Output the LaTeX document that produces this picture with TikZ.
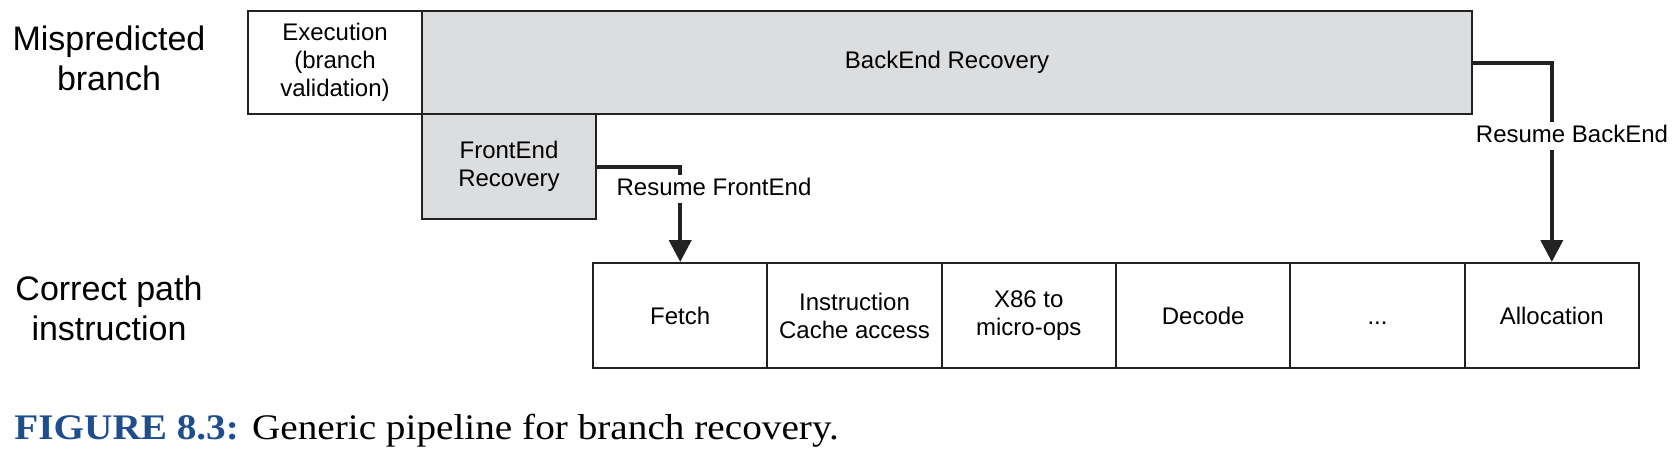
\documentclass[tikz,border=0pt]{standalone}
\usepackage{fontspec}
\setmainfont{Liberation Serif}
\setsansfont{Liberation Sans}
\usetikzlibrary{arrows.meta}
\definecolor{boxgray}{HTML}{DCDDDF}
\definecolor{capblue}{HTML}{1F4E8F}
\definecolor{linegray}{HTML}{222222}
\begin{document}
\begin{tikzpicture}[x=0.5pt,y=-0.5pt,
  box/.style={draw=linegray, line width=1pt, minimum width=87.17pt, minimum height=52.5pt,
    inner sep=0pt, align=center, font=\sffamily\fontsize{12}{14}\selectfont},
  graybox/.style={box, fill=boxgray},
  arr/.style={draw=linegray, line width=2pt, -{Triangle[width=11pt,length=11pt]}},
  lbl/.style={fill=white, inner xsep=2pt, inner ysep=0pt, text height=10pt, text depth=4pt,
    font=\sffamily\fontsize{12}{14}\selectfont},
  biglbl/.style={align=center, inner sep=0pt, font=\sffamily\fontsize{17}{20}\selectfont}]
\useasboundingbox (0,0) rectangle (1674,461);

% left labels
\node[biglbl] (mis) at (109,58) {Mispredicted\\branch};
\node[biglbl] (cor) at (109,308) {Correct path\\instruction};

% top boxes
\node[graybox, minimum width=525pt, minimum height=51.5pt] (back) at (947,62.5) {\raisebox{-1.5pt}{BackEnd Recovery}};
\node[box, fill=white, minimum width=87pt, minimum height=51.5pt] (exec) at (335,62.5) {Execution\\(branch\\validation)};
\node[graybox, minimum width=87pt, minimum height=52.5pt] (front) at (509,166.5) {FrontEnd\\Recovery};

% pipeline cells
\node[box] (fetch) at (680.2,315.5) {Fetch};
\node[box] (icache) at (854.5,315.5) {Instruction\\Cache access};
\node[box] (x86) at (1028.8,315.5) {X86 to\\micro-ops};
\node[box] (decode) at (1203.2,315.5) {Decode};
\node[box] (dots) at (1377.5,315.5) {\vphantom{Fetch}...};
\node[box] (alloc) at (1551.8,315.5) {Allocation};

% connectors
\draw[arr] (front.east) -| (fetch.north);
\draw[arr] (back.east) -| (alloc.north);
\node[lbl] (rfe) at (714,189) {Resume FrontEnd};
\node[lbl] (rbe) at (1572,136) {Resume BackEnd};

% caption
\node[anchor=base west, inner sep=0pt] (cap) at (14,439)
  {\scalebox{1.09}[1]{\fontsize{18}{20}\selectfont\textbf{\color{capblue}FIGURE 8.3:} Generic pipeline for branch recovery.}};
\end{tikzpicture}
\end{document}
